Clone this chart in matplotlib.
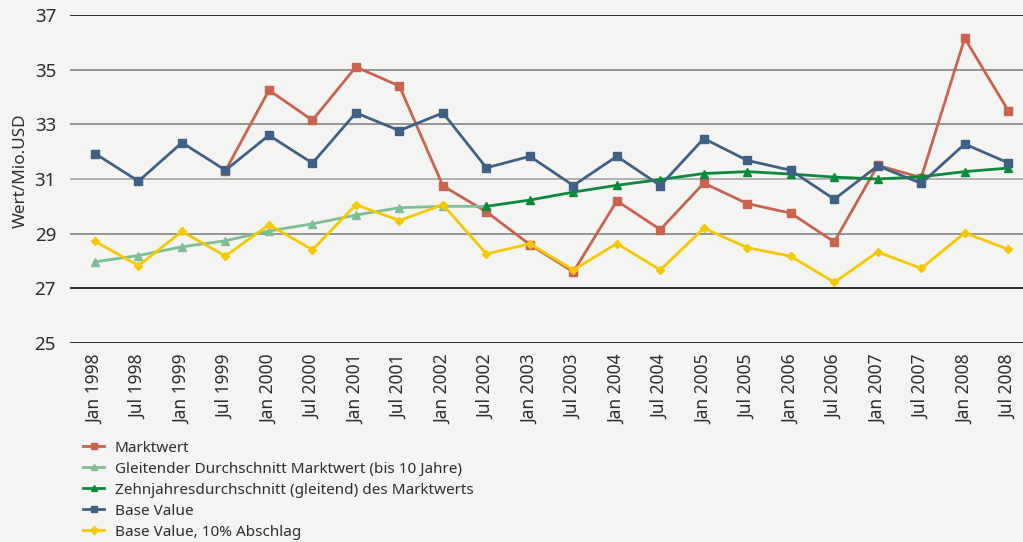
import matplotlib.pyplot as plt
import numpy as np

plt.rcParams["font.family"] = ["Noto Sans", "DejaVu Sans"]

# --- Data ---
periods = ["Jan 1998", "Jul 1998", "Jan 1999", "Jul 1999", "Jan 2000", "Jul 2000",
           "Jan 2001", "Jul 2001", "Jan 2002", "Jul 2002", "Jan 2003", "Jul 2003",
           "Jan 2004", "Jul 2004", "Jan 2005", "Jul 2005", "Jan 2006", "Jul 2006",
           "Jan 2007", "Jul 2007", "Jan 2008", "Jul 2008"]

nan = np.nan
marktwert = [nan, nan, nan, 31.3, 34.25, 33.15, 35.1, 34.4, 30.75, 29.8, 28.6, 27.6,
             30.2, 29.15, 30.85, 30.1, 29.75, 28.7, 31.5, 31.05, 36.15, 33.5]
gleitend = [27.97, 28.2, 28.52, 28.74, 29.1, 29.36, 29.68, 29.95, 30.0, 30.0,
            nan, nan, nan, nan, nan, nan, nan, nan, nan, nan, nan, nan]
zehnjahr = [nan, nan, nan, nan, nan, nan, nan, nan, nan, 30.0, 30.23, 30.52,
            30.77, 30.98, 31.2, 31.27, 31.18, 31.07, 31.0, 31.08, 31.27, 31.4]
base_value = [31.93, 30.92, 32.33, 31.32, 32.6, 31.58, 33.42, 32.77, 33.42, 31.41,
              31.83, 30.76, 31.83, 30.76, 32.48, 31.68, 31.32, 30.26, 31.48, 30.84,
              32.28, 31.59]
base_abschlag = [28.72, 27.83, 29.08, 28.18, 29.33, 28.41, 30.06, 29.48, 30.06, 28.26,
                 28.63, 27.67, 28.64, 27.67, 29.2, 28.49, 28.17, 27.22, 28.33, 27.73,
                 29.03, 28.43]

y_ticks = [25, 27, 29, 31, 33, 35, 37]

# --- Style ---
BG = "#F4F4F2"
TEXT = "#2E2E2E"
RED = "#C9634F"
LIGHT_GREEN = "#7DBE95"
DARK_GREEN = "#0B8A3A"
BLUE = "#3F6186"
YELLOW = "#F5C800"
grid_colors = ["#1A1A1A", "#1A1A1A", "#8C8C8C", "#ABABAB", "#8C8C8C", "#8C8C8C", "#1A1A1A"]

fig = plt.figure(figsize=(10.23, 5.42), dpi=100, facecolor=BG)
ax = fig.add_axes([70 / 1023, 1 - 343 / 542, 1 - 70 / 1023, (343 - 15) / 542])
ax.set_facecolor(BG)

x = np.arange(len(periods))

for yv, c in zip(y_ticks, grid_colors):
    ax.axhline(yv, color=c, lw=1.3, zorder=1)

series = [
    (marktwert, RED, "s", 5.5, "Marktwert"),
    (gleitend, LIGHT_GREEN, "^", 5.5, "Gleitender Durchschnitt Marktwert (bis 10 Jahre)"),
    (zehnjahr, DARK_GREEN, "^", 5.5, "Zehnjahresdurchschnitt (gleitend) des Marktwerts"),
    (base_value, BLUE, "s", 5.5, "Base Value"),
    (base_abschlag, YELLOW, "D", 4.5, "Base Value, 10% Abschlag"),
]
handles = []
for vals, c, m, ms, lab in series:
    h, = ax.plot(x, vals, color=c, lw=2, marker=m, ms=ms, mfc=c, mec=c,
                 label=lab, zorder=3)
    handles.append(h)

ax.set_xlim(-0.575, 21.34)
ax.set_ylim(25, 37)
ax.set_yticks(y_ticks)
ax.set_xticks(x)
ax.set_xticklabels(periods, rotation=90)
ax.tick_params(axis="both", length=0, colors=TEXT)
ax.tick_params(axis="y", labelsize=13.5, pad=10)
ax.tick_params(axis="x", labelsize=12.5, pad=8)
for s in ax.spines.values():
    s.set_visible(False)

ax.set_ylabel("Wert/Mio.USD", fontsize=12.3, color=TEXT)
ax.yaxis.set_label_coords(-0.043, 0.525)

fig.legend(handles=handles, loc="upper left", bbox_to_anchor=(0.075, 0.198),
           frameon=False, fontsize=11, handlelength=1.4, handletextpad=0.7,
           labelspacing=0.39, borderaxespad=0, markerscale=0.8, labelcolor=TEXT)

fig.savefig("out.png", dpi=100, facecolor=BG)
